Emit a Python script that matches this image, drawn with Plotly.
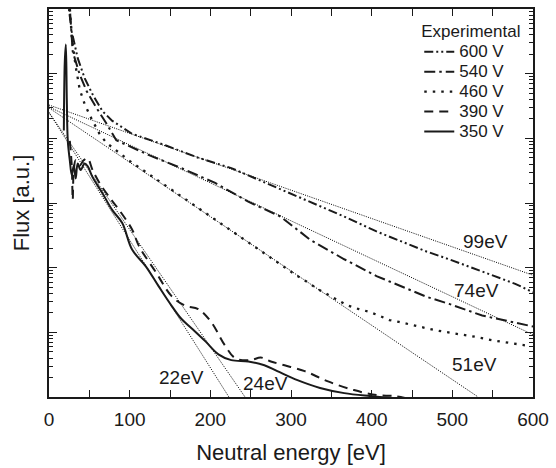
import numpy as np
import plotly.graph_objects as go

# ---------------- data (energy in eV, log10 of flux in a.u.) ----------------
E_600 = [22, 28.2, 35.6, 44.2, 54.0, 66.3, 78.5, 103, 124, 145, 185, 226, 267, 317, 366, 406, 468, 496, 537, 578, 600]
L_600 = [6.26, 5.65, 5.24, 4.93, 4.68, 4.42, 4.27, 4.07, 3.98, 3.89, 3.70, 3.54, 3.32, 3.05, 2.79, 2.56, 2.25, 2.13, 1.94, 1.75, 1.62]

E_540 = [24.5, 29.4, 38.0, 46.6, 58.9, 71.2, 83.4, 124, 164, 206, 247, 287, 324, 366, 406, 468, 496, 537, 600]
L_540 = [6.26, 5.34, 4.99, 4.73, 4.47, 4.23, 3.97, 3.74, 3.54, 3.31, 3.02, 2.79, 2.43, 2.13, 1.87, 1.55, 1.44, 1.26, 1.09]

E_460 = [24.5, 28.2, 33.1, 38.0, 44.2, 52.8, 62.6, 71.2, 100, 150, 200, 250, 292, 308, 320, 333, 345, 369, 384, 396, 409, 422, 434, 447, 459, 480, 504, 529, 553, 578, 590]
L_460 = [6.26, 5.57, 5.11, 4.76, 4.53, 4.30, 4.07, 3.93, 3.65, 3.22, 2.80, 2.37, 2.01, 1.87, 1.78, 1.67, 1.59, 1.42, 1.36, 1.32, 1.26, 1.19, 1.16, 1.12, 1.09, 1.03, 0.98, 0.93, 0.87, 0.83, 0.80]

E_390 = [25.8, 28.2, 29.4, 30.7, 33.1, 38.0, 42.9, 47.9, 54.0, 62.6, 74.8, 87.1, 103, 111.7, 132.5, 152, 169, 185, 201, 218, 231, 250, 262.6, 275, 292, 317, 345, 378, 406, 427, 443]
L_390 = [3.96, 3.58, 3.05, 3.50, 3.66, 3.58, 3.66, 3.69, 3.51, 3.31, 3.09, 2.89, 2.59, 2.33, 1.93, 1.56, 1.41, 1.36, 1.16, 0.80, 0.60, 0.57, 0.61, 0.55, 0.49, 0.40, 0.245, 0.107, 0.03, 0.015, -0.02]

E_350 = [18.4, 19.6, 20.9, 22.1, 23.3, 25.8, 28.2, 30.7, 33.1, 35.6, 39.3, 44.2, 47.9, 54.0, 66.3, 78.5, 90.8, 103, 120, 136, 152, 164, 177, 194, 210, 226, 247, 267, 283, 308, 336, 366, 398, 431]
L_350 = [4.12, 5.19, 5.45, 4.58, 3.96, 3.66, 3.43, 3.58, 3.38, 3.61, 3.51, 3.61, 3.57, 3.40, 3.15, 2.89, 2.69, 2.28, 2.02, 1.71, 1.41, 1.21, 1.06, 0.86, 0.66, 0.57, 0.55, 0.49, 0.40, 0.26, 0.14, 0.06, 0.015, -0.02]

series_names = ["600 V", "540 V", "460 V", "390 V", "350 V"]

# exponential fits (straight lines on the log axis): start/end energy and log10 flux
fit_labels = ["99eV", "74eV", "51eV", "24eV", "22eV"]
fit_E_start = [0, 0, 0, 0, 0]
fit_E_end = [600, 600, 532, 243, 223]
fit_L_start = [4.515, 4.485, 4.47, 4.40, 4.40]
fit_L_end = [1.883, 0.964, 0.0, 0.0, 0.0]

x_tick_vals = [0, 100, 200, 300, 400, 500, 600]

# ---------------- figure ----------------
FONT = "Liberation Sans, Arial, sans-serif"
INK = "#1a1a1a"

fig = go.Figure()

# fit lines
for lab, e0, e1, l0, l1 in zip(fit_labels, fit_E_start, fit_E_end, fit_L_start, fit_L_end):
    fig.add_trace(go.Scatter(
        x=[e0, e1], y=10 ** np.array([l0, l1]), mode="lines",
        line=dict(color="#000000", width=1.0, dash="1px,1.3px"),
        showlegend=False, hoverinfo="skip"))

styles = [
    dict(dash="9px,3px,2px,3px,2px,3px", width=2.0),
    dict(dash="11px,4px,2.5px,4px", width=2.0),
    dict(dash="2.5px,6px", width=2.3),
    dict(dash="9px,6px", width=2.0),
    dict(dash="solid", width=2.0),
]
data_E = [E_600, E_540, E_460, E_390, E_350]
data_L = [L_600, L_540, L_460, L_390, L_350]

for name, ex, ly, st in zip(series_names, data_E, data_L, styles):
    fig.add_trace(go.Scatter(
        x=ex, y=10 ** np.array(ly), mode="lines",
        name='<span style="font-size:17px">' + name + '</span>',
        line=dict(color=INK, width=st["width"], dash=st["dash"]),
        line_shape="spline" if name in ("390 V", "350 V") else "linear"))

# fit labels
fit_label_pos = {"99eV": (541, 2.40), "74eV": (530, 1.64), "51eV": (528, 0.505),
                 "24eV": (269, 0.214), "22eV": (164, 0.306)}
for lab in fit_labels:
    ex, ly = fit_label_pos[lab]
    fig.add_annotation(x=ex, y=ly, text=lab, showarrow=False,
                       font=dict(family=FONT, size=19, color=INK),
                       xanchor="center", yanchor="middle")

fig.update_layout(
    width=556, height=468,
    margin=dict(l=49, r=18, t=7, b=69),
    paper_bgcolor="white", plot_bgcolor="white",
    font=dict(family=FONT, size=16, color=INK),
    legend=dict(
        x=0.765, y=0.985, xanchor="left", yanchor="top",
        bgcolor="rgba(0,0,0,0)", borderwidth=0,
        title=dict(text="Experimental", font=dict(family=FONT, size=17, color=INK)),
        font=dict(family=FONT, size=13, color=INK),
        tracegroupgap=0, itemwidth=30,
    ),
    xaxis=dict(
        range=[0, 600], tickvals=x_tick_vals, ticks="inside", ticklen=7,
        tickwidth=1.2, tickcolor=INK, showline=True, linecolor=INK, linewidth=1.5,
        mirror="ticks", showgrid=False, zeroline=False,
        tickfont=dict(family=FONT, size=19, color=INK), ticklabelstandoff=4,
        minor=dict(dtick=50, tick0=0, ticks="inside", ticklen=7, tickcolor=INK, tickwidth=1.2, showgrid=False),
        title=dict(text="Neutral energy [eV]", font=dict(family=FONT, size=22, color=INK), standoff=16),
    ),
    yaxis=dict(
        type="log", range=[0, 6], dtick=1, ticks="inside", ticklen=8,
        tickwidth=1.2, tickcolor=INK, showline=True, linecolor=INK, linewidth=1.5,
        mirror="ticks", showgrid=False, zeroline=False, showticklabels=False,
        minor=dict(dtick="D1", ticks="inside", ticklen=4, tickcolor=INK, tickwidth=1, showgrid=False),
        title=dict(text="Flux [a.u.]", font=dict(family=FONT, size=22, color=INK), standoff=12),
    ),
)

fig.write_html("out.html")
